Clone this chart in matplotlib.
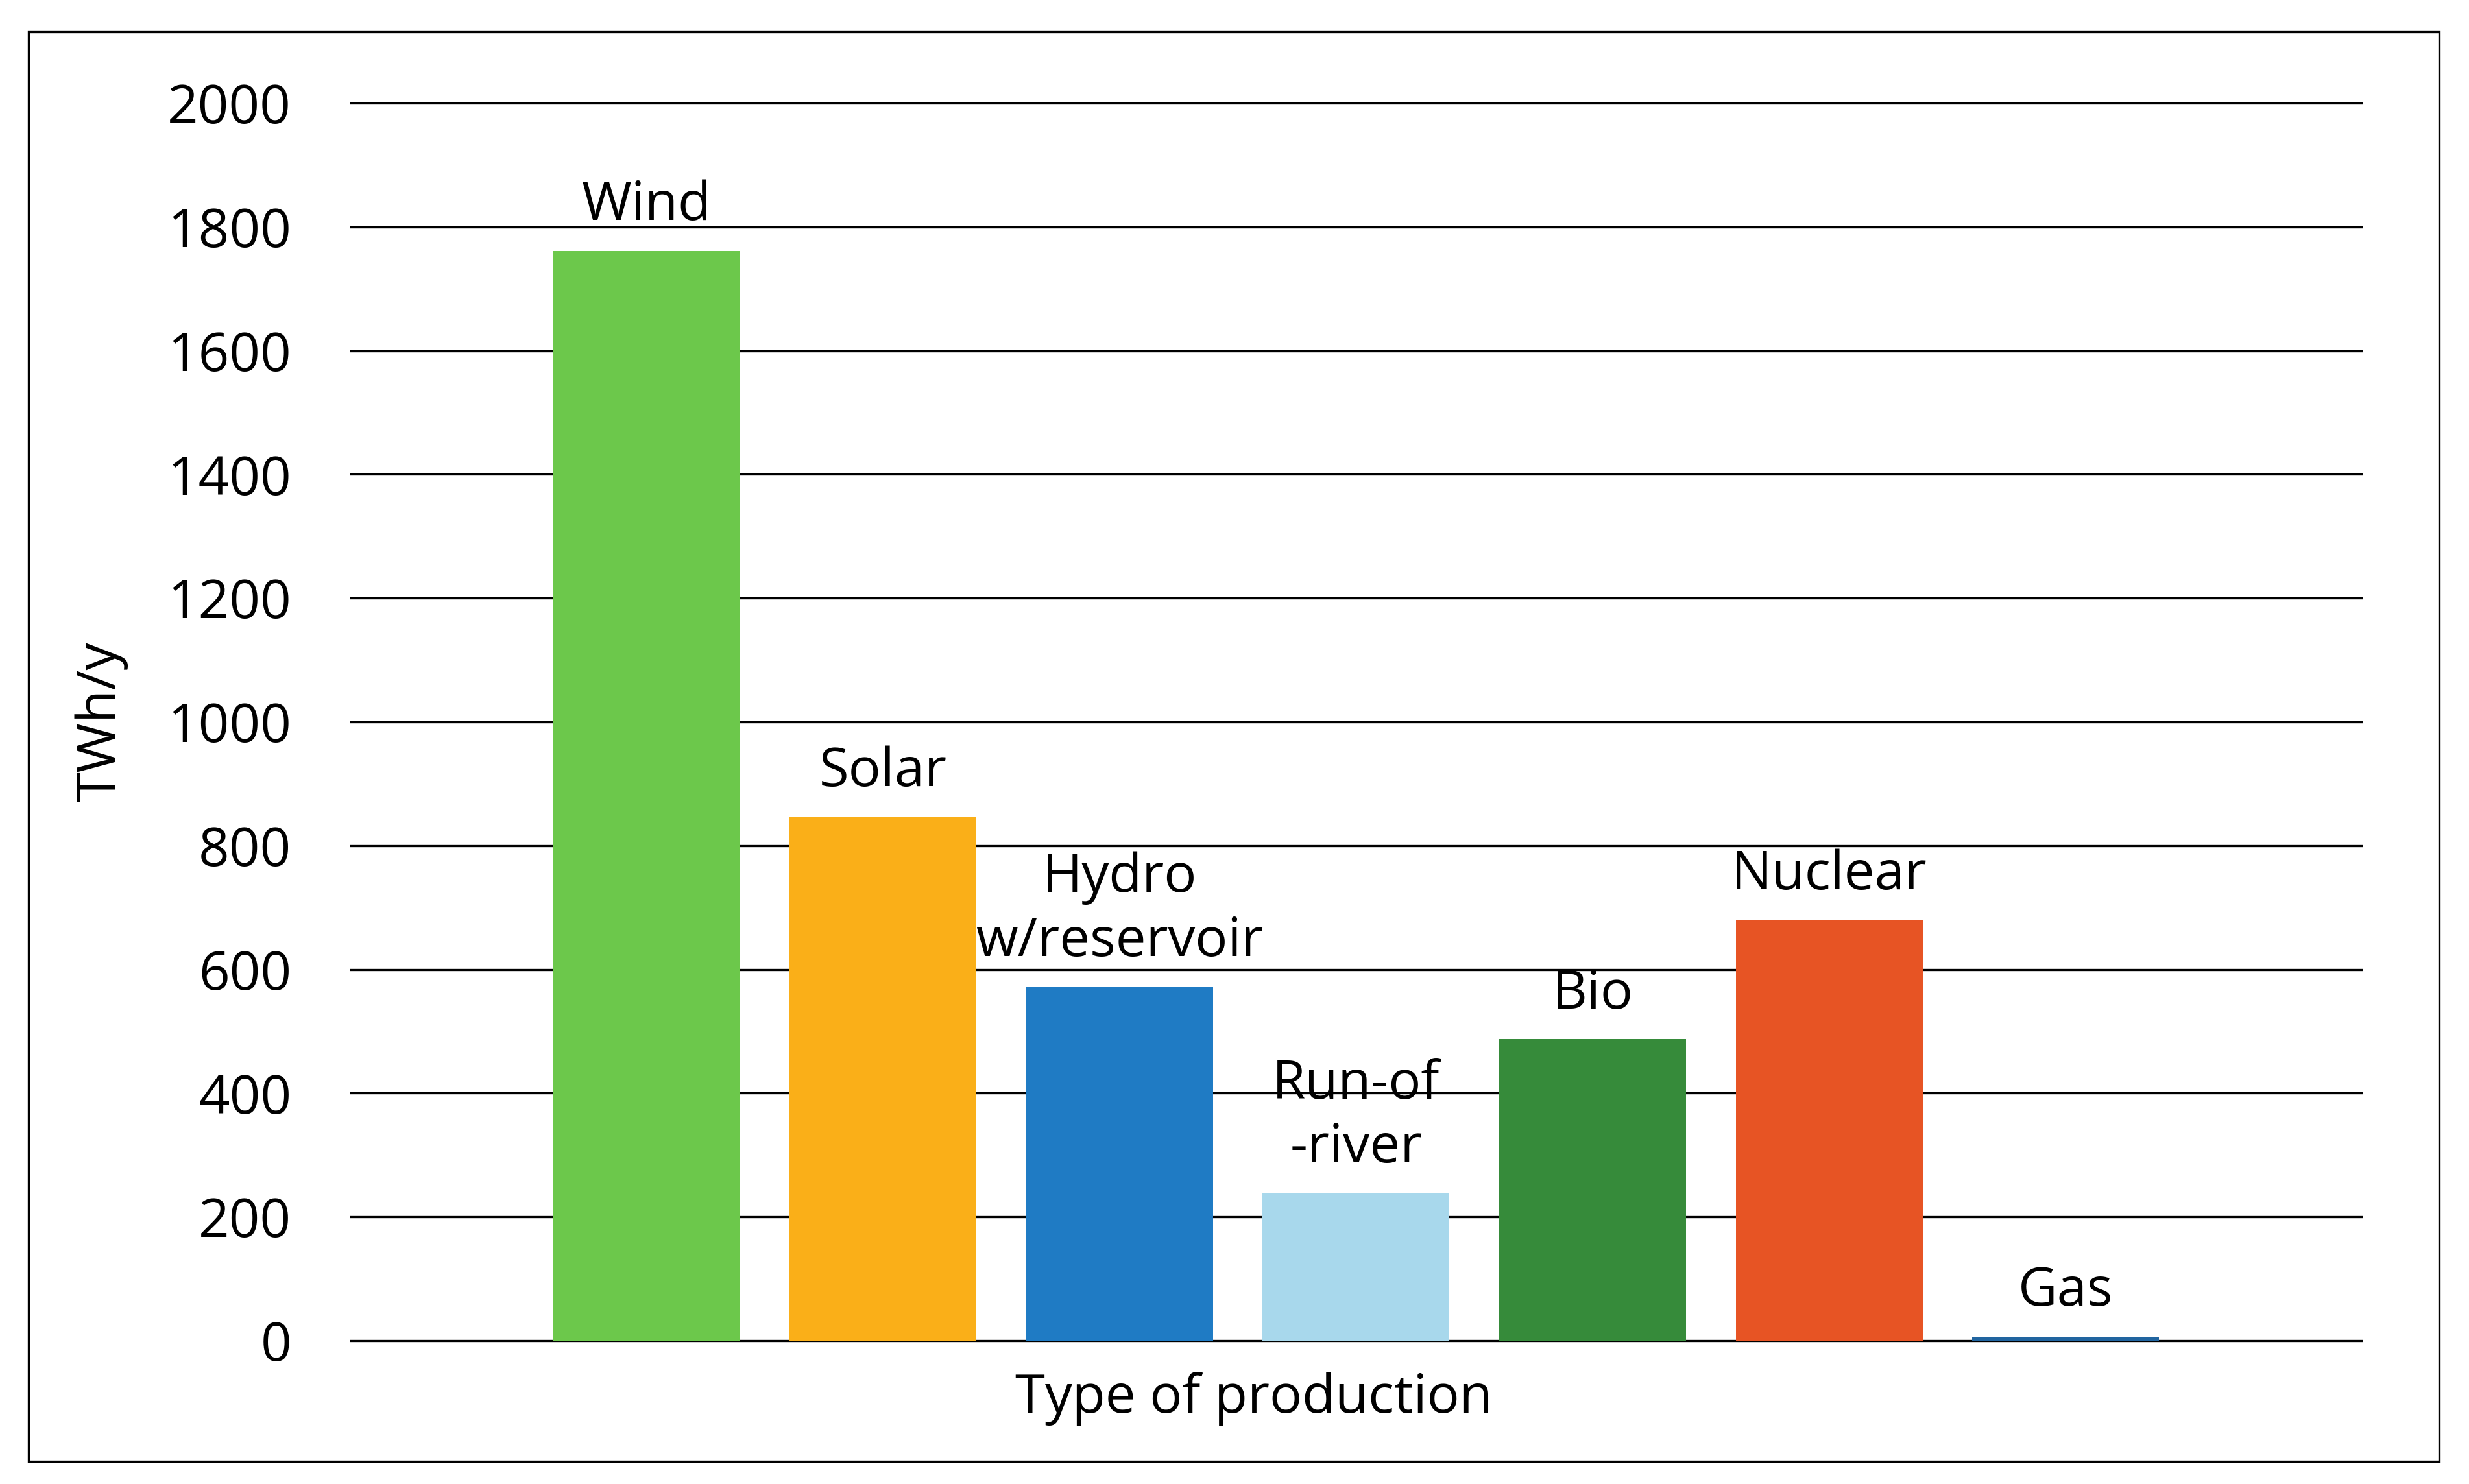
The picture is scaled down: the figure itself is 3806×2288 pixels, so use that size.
import matplotlib.pyplot as plt
from matplotlib.patches import Rectangle

categories = ["Wind", "Solar", "Hydro\nw/reservoir", "Run-of\n-river", "Bio", "Nuclear", "Gas"]
values = [1761, 846, 572, 238, 487, 679, 6]
colors = ["#6CC84B", "#FAAF18", "#1F7BC4", "#A8D8EC", "#368B3A", "#E75424", "#2165A0"]
yticks = [0, 200, 400, 600, 800, 1000, 1200, 1400, 1600, 1800, 2000]

plt.rcParams['font.family'] = ['Open Sans', 'DejaVu Sans']
FS = 30

fig = plt.figure(figsize=(19.03, 11.44), dpi=200)
ax = fig.add_axes([0.1421, 0.0966, 0.8143, 0.8339])

x = list(range(len(categories)))
ax.bar(x, values, width=0.79, color=colors, zorder=3)

for xi, v, name in zip(x, values, categories):
    ax.annotate(name, (xi, v), xytext=(0, 10), textcoords="offset points",
                ha="center", va="bottom", fontsize=FS, linespacing=1.25)

ax.set_xlim(-1.25, 7.25)
ax.set_ylim(0, 2000)
ax.set_yticks(yticks)
ax.set_xticks([])
ax.grid(axis="y", color="black", linewidth=1.2, zorder=0)
for gl in ax.get_ygridlines():
    gl.set_clip_on(False)
ax.tick_params(axis="y", length=0, pad=33, labelsize=FS)
for s in ax.spines.values():
    s.set_visible(False)

ax.set_ylabel("TWh/y", fontsize=FS, labelpad=22)
ax.set_xlabel("Type of production", fontsize=FS, labelpad=12)
ax.xaxis.set_label_coords(0.449, -0.025)
ax.xaxis.label.set_va("top")

# outer chart border
fig.patches.append(Rectangle((44 / 3806, 1 - 2253 / 2288), (3760 - 44) / 3806, (2253 - 49) / 2288,
                             transform=fig.transFigure, fill=False, edgecolor="black", linewidth=1.2))

fig.savefig("out.png", dpi=200)
